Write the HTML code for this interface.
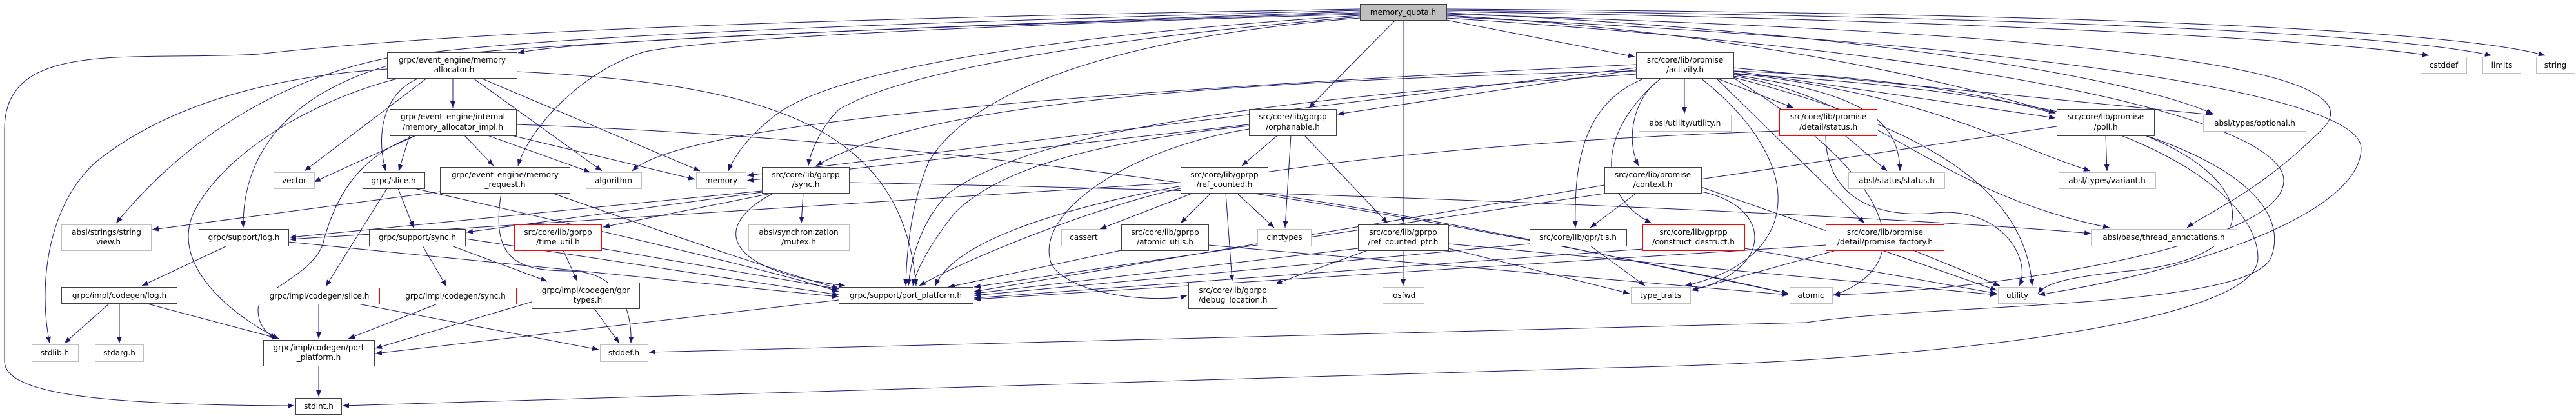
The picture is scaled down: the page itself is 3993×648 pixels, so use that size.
<!DOCTYPE html>
<html><head><meta charset="utf-8"><style>
html,body{margin:0;padding:0;background:#fff;}
svg{display:block;}
text{font-family:"DejaVu Sans","Liberation Sans",sans-serif;font-size:12px;fill:#000;}
.e{fill:none;stroke:#191970;stroke-width:1;marker-end:url(#a);}
.b{fill:#fff;stroke:#404040;stroke-width:1;}
.g{fill:#fff;stroke:#bfbfbf;stroke-width:1;}
.r{fill:#fff;stroke:#ff0000;stroke-width:1;}
.m{fill:#bfbfbf;stroke:#404040;stroke-width:1;}
</style></head><body>
<svg width="3993" height="648" viewBox="0 0 3993 648" xmlns="http://www.w3.org/2000/svg">
<defs><marker id="a" markerUnits="userSpaceOnUse" markerWidth="11" markerHeight="8" refX="10" refY="4" orient="auto"><path d="M0,0 L10,4 L0,8 z" fill="#191970"/></marker></defs>
<g>
<!-- memory_quota edges -->
<path class="e" d="M2108,20 C1500,40 900,60 803,82"/>
<path class="e" d="M2108,14 C1200,30 700,50 400,84 C200,95 7,60 7,200 L7,560 C7,610 150,628 456,629"/>
<path class="e" d="M2108,16 C1200,40 800,60 600,90 C450,120 300,200 180,346"/>
<path class="e" d="M2108,18 C1300,45 800,70 650,90 C500,120 375,200 377,353"/>
<path class="e" d="M2108,22 C1500,40 1100,60 1000,80 C900,110 820,200 803,257"/>
<path class="e" d="M2108,24 C1700,50 1300,100 1200,180 C1150,220 1135,250 1129,265"/>
<path class="e" d="M2108,26 C1700,60 1400,110 1300,170 C1270,200 1255,240 1253,257"/>
<path class="e" d="M2163,31 L2029,167"/>
<path class="e" d="M2175,31 L2175,346"/>
<path class="e" d="M2242,31 L2534,88"/>
<path class="e" d="M2108,28 C1700,60 1500,150 1440,250 C1410,320 1405,400 1404,443"/>
<path class="e" d="M2242,24 C2700,50 3000,120 3186,175"/>
<path class="e" d="M2242,20 C2900,50 3300,120 3430,176"/>
<path class="e" d="M2242,22 C3200,50 3700,100 3600,200 C3500,300 3420,330 3390,353"/>
<path class="e" d="M2242,18 C3000,30 3600,60 3765,86"/>
<path class="e" d="M2242,16 C3100,25 3700,50 3862,86"/>
<path class="e" d="M2242,14 C3200,20 3800,45 3945,86"/>
<path class="e" d="M2242,26 C3200,70 3660,150 3660,230 C3660,330 3400,420 3160,457"/>
<path class="e" d="M2242,28 C3200,90 3540,200 3540,280 C3540,380 3100,450 2842,457"/>
<path class="e" d="M2687,110 C3300,130 3500,300 3500,400 C3500,500 3000,560 2500,570 L531,629"/>
<path class="e" d="M2687,115 C3400,150 3560,300 3520,400 C3480,480 3000,470 2800,500 L1006,546"/>
<!-- memory_allocator -->
<path class="e" d="M600,107 C400,120 250,170 150,250 C70,320 60,450 77,532"/>
<path class="e" d="M620,121 C500,150 350,230 300,330 C260,420 380,500 432,525"/>
<path class="e" d="M662,121 L472,265"/>
<path class="e" d="M650,121 C600,140 580,200 598,265"/>
<path class="e" d="M702,121 L702,167"/>
<path class="e" d="M733,121 L933,265"/>
<path class="e" d="M745,121 L1085,265"/>
<path class="e" d="M801,111 C1200,130 1400,200 1420,443"/>
<!-- memory_allocator_impl -->
<path class="e" d="M645,210 L487,282"/>
<path class="e" d="M635,210 L618,265"/>
<path class="e" d="M645,210 C560,240 520,300 500,380 C480,430 400,450 400,480 C400,510 420,520 428,525"/>
<path class="e" d="M720,210 L765,257"/>
<path class="e" d="M756,210 L915,267"/>
<path class="e" d="M793,210 L1077,278"/>
<path class="e" d="M800,193 C1600,220 2300,350 2772,455"/>
<!-- slice / request / log / sync -->
<path class="e" d="M600,292 L505,444"/>
<path class="e" d="M617,292 L641,353"/>
<path class="e" d="M642,292 C900,350 1200,420 1300,452"/>
<path class="e" d="M855,299 C1000,350 1200,420 1300,447"/>
<path class="e" d="M777,299 C760,400 800,420 880,420 C960,420 980,480 978,532"/>
<path class="e" d="M682,297 L236,356"/>
<path class="e" d="M352,381 L220,443"/>
<path class="e" d="M447,375 L1300,460"/>
<path class="e" d="M655,381 L692,444"/>
<path class="e" d="M700,381 L848,436"/>
<path class="e" d="M721,370 L1300,457"/>
<path class="e" d="M170,470 L100,532"/>
<path class="e" d="M185,470 L185,532"/>
<path class="e" d="M225,470 L432,525"/>
<path class="e" d="M494,471 L494,525"/>
<path class="e" d="M555,471 L928,542"/>
<path class="e" d="M678,471 L540,525"/>
<path class="e" d="M494,567 L494,615"/>
<!-- gprpp sync -->
<path class="e" d="M1181,296 L449,368"/>
<path class="e" d="M1181,298 L723,360"/>
<path class="e" d="M1200,299 L935,352"/>
<path class="e" d="M1245,299 L1242,346"/>
<path class="e" d="M1200,299 C1100,350 1120,420 1310,443"/>
<path class="e" d="M1316,283 C2200,300 3000,340 3241,362"/>
<path class="e" d="M873,388 L895,436"/>
<path class="e" d="M932,385 L1300,448"/>
<path class="e" d="M824,468 L582,540"/>
<path class="e" d="M921,478 L960,532"/>
<path class="e" d="M1300,465 L582,548"/>
<!-- orphanable / ref_counted -->
<path class="e" d="M1980,210 L1925,257"/>
<path class="e" d="M2001,210 L1992,353"/>
<path class="e" d="M1936,200 C1750,230 1600,330 1630,410 C1660,460 1800,470 1840,458"/>
<path class="e" d="M1936,195 C1700,220 1550,260 1480,330 C1440,380 1420,420 1415,443"/>
<path class="e" d="M1936,193 L1158,280"/>
<path class="e" d="M2023,211 L2151,346"/>
<path class="e" d="M1850,299 L1705,355"/>
<path class="e" d="M1877,299 L1830,346"/>
<path class="e" d="M1917,299 L1975,353"/>
<path class="e" d="M1900,299 L1910,436"/>
<path class="e" d="M1830,292 C1700,320 1500,400 1425,443"/>
<path class="e" d="M1965,300 C2300,350 2600,420 2772,455"/>
<path class="e" d="M1830,283 L449,371"/>
<path class="e" d="M1738,388 L1470,445"/>
<path class="e" d="M1873,380 L2772,457"/>
<path class="e" d="M2175,388 L2175,443"/>
<path class="e" d="M2120,388 L1977,440"/>
<path class="e" d="M2105,385 L1510,455"/>
<path class="e" d="M2245,385 L2526,455"/>
<path class="e" d="M2245,378 L3095,457"/>
<!-- activity -->
<path class="e" d="M2611,121 L2611,176"/>
<path class="e" d="M2660,121 L2780,167"/>
<path class="e" d="M2576,121 C2530,150 2520,220 2540,257"/>
<path class="e" d="M2550,121 C2450,160 2440,260 2442,353"/>
<path class="e" d="M2575,121 C2480,200 2470,300 2560,346"/>
<path class="e" d="M2636,121 C2800,250 2800,400 2612,443"/>
<path class="e" d="M2687,110 L3186,183"/>
<path class="e" d="M2687,116 C2850,140 2945,170 2945,265"/>
<path class="e" d="M2687,113 C3000,150 3100,220 3240,265"/>
<path class="e" d="M2687,105 L3430,178"/>
<path class="e" d="M2687,118 C2900,150 3000,300 3270,353"/>
<path class="e" d="M2687,120 C3000,200 3140,300 3150,443"/>
<path class="e" d="M2687,121 C2900,250 3000,400 2842,458"/>
<path class="e" d="M2660,121 L2890,346"/>
<path class="e" d="M2536,110 C1700,130 1400,180 1265,257"/>
<path class="e" d="M2536,108 L2073,177"/>
<path class="e" d="M2536,105 L1158,272"/>
<path class="e" d="M2536,100 C1500,150 1050,200 980,265"/>
<path class="e" d="M2536,115 C2000,150 1600,200 1470,300 C1420,350 1410,420 1408,443"/>
<!-- promise leaves -->
<path class="e" d="M2860,210 L2925,265"/>
<path class="e" d="M2758,203 C2000,230 1500,320 1450,443"/>
<path class="e" d="M2830,210 C2830,300 2900,340 3000,330 C3100,320 3150,400 3130,443"/>
<path class="e" d="M2537,299 L2465,353"/>
<path class="e" d="M2487,287 L1510,452"/>
<path class="e" d="M2637,297 C2750,320 2750,420 2622,450"/>
<path class="e" d="M2637,290 L3095,450"/>
<path class="e" d="M2371,378 L1510,458"/>
<path class="e" d="M2465,381 L2550,443"/>
<path class="e" d="M2546,386 L1510,462"/>
<path class="e" d="M2704,385 L3095,455"/>
<path class="e" d="M3264,210 L3266,265"/>
<path class="e" d="M3188,196 L1510,445"/>
<path class="e" d="M3325,210 C3500,280 3520,400 3300,420 C3200,430 3170,440 3159,455"/>
<path class="e" d="M2846,388 L2622,450"/>
<path class="e" d="M2966,388 L3100,443"/>
<path class="e" d="M2830,380 L1510,464"/>
</g>
<g>
<rect class="m" x="2108.5" y="6.5" width="134" height="25"/><text x="2175" y="23" text-anchor="middle">memory_quota.h</text>
<rect class="b" x="600.5" y="81.5" width="201" height="40"/><text x="701" y="97" text-anchor="middle">grpc/event_engine/memory</text><text x="701" y="112" text-anchor="middle">_allocator.h</text>
<rect class="b" x="604.5" y="169.5" width="196" height="41"/><text x="702" y="185" text-anchor="middle">grpc/event_engine/internal</text><text x="702" y="201" text-anchor="middle">/memory_allocator_impl.h</text>
<rect class="g" x="424.5" y="267.5" width="63" height="25"/><text x="456" y="284" text-anchor="middle">vector</text>
<rect class="b" x="562.5" y="267.5" width="96" height="25"/><text x="610" y="284" text-anchor="middle">grpc/slice.h</text>
<rect class="b" x="682.5" y="259.5" width="201" height="40"/><text x="783" y="275" text-anchor="middle">grpc/event_engine/memory</text><text x="783" y="290" text-anchor="middle">_request.h</text>
<rect class="g" x="95.5" y="348.5" width="139" height="40"/><text x="165" y="364" text-anchor="middle">absl/strings/string</text><text x="165" y="379" text-anchor="middle">_view.h</text>
<rect class="b" x="308.5" y="355.5" width="139" height="26"/><text x="378" y="372" text-anchor="middle">grpc/support/log.h</text>
<rect class="b" x="572.5" y="355.5" width="149" height="26"/><text x="647" y="372" text-anchor="middle">grpc/support/sync.h</text>
<rect class="b" x="95.5" y="445.5" width="179" height="25"/><text x="185" y="462" text-anchor="middle">grpc/impl/codegen/log.h</text>
<rect class="r" x="401.5" y="446.5" width="187" height="25"/><text x="495" y="463" text-anchor="middle">grpc/impl/codegen/slice.h</text>
<rect class="r" x="612.5" y="446.5" width="188" height="25"/><text x="706" y="463" text-anchor="middle">grpc/impl/codegen/sync.h</text>
<rect class="g" x="49.5" y="534.5" width="72" height="26"/><text x="85" y="551" text-anchor="middle">stdlib.h</text>
<rect class="g" x="147.5" y="534.5" width="75" height="26"/><text x="185" y="551" text-anchor="middle">stdarg.h</text>
<rect class="b" x="408.5" y="527.5" width="172" height="40"/><text x="494" y="543" text-anchor="middle">grpc/impl/codegen/port</text><text x="494" y="558" text-anchor="middle">_platform.h</text>
<rect class="b" x="458.5" y="617.5" width="71" height="25"/><text x="494" y="634" text-anchor="middle">stdint.h</text>
<rect class="g" x="908.5" y="267.5" width="86" height="25"/><text x="951" y="284" text-anchor="middle">algorithm</text>
<rect class="g" x="1079.5" y="267.5" width="77" height="25"/><text x="1118" y="284" text-anchor="middle">memory</text>
<rect class="b" x="1181.5" y="259.5" width="135" height="40"/><text x="1249" y="275" text-anchor="middle">src/core/lib/gprpp</text><text x="1249" y="290" text-anchor="middle">/sync.h</text>
<rect class="r" x="797.5" y="348.5" width="135" height="40"/><text x="865" y="364" text-anchor="middle">src/core/lib/gprpp</text><text x="865" y="379" text-anchor="middle">/time_util.h</text>
<rect class="g" x="1160.5" y="348.5" width="156" height="40"/><text x="1238" y="364" text-anchor="middle">absl/synchronization</text><text x="1238" y="379" text-anchor="middle">/mutex.h</text>
<rect class="b" x="824.5" y="438.5" width="167" height="40"/><text x="908" y="454" text-anchor="middle">grpc/impl/codegen/gpr</text><text x="908" y="469" text-anchor="middle">_types.h</text>
<rect class="g" x="930.5" y="534.5" width="74" height="26"/><text x="967" y="551" text-anchor="middle">stddef.h</text>
<rect class="b" x="1300.5" y="445.5" width="208" height="25"/><text x="1404" y="462" text-anchor="middle">grpc/support/port_platform.h</text>
<rect class="b" x="1936.5" y="169.5" width="135" height="41"/><text x="2004" y="185" text-anchor="middle">src/core/lib/gprpp</text><text x="2004" y="201" text-anchor="middle">/orphanable.h</text>
<rect class="b" x="1830.5" y="259.5" width="135" height="40"/><text x="1898" y="275" text-anchor="middle">src/core/lib/gprpp</text><text x="1898" y="290" text-anchor="middle">/ref_counted.h</text>
<rect class="g" x="1645.5" y="355.5" width="69" height="26"/><text x="1680" y="372" text-anchor="middle">cassert</text>
<rect class="b" x="1738.5" y="348.5" width="135" height="40"/><text x="1806" y="364" text-anchor="middle">src/core/lib/gprpp</text><text x="1806" y="379" text-anchor="middle">/atomic_utils.h</text>
<rect class="g" x="1949.5" y="355.5" width="83" height="26"/><text x="1991" y="372" text-anchor="middle">cinttypes</text>
<rect class="b" x="1842.5" y="438.5" width="137" height="40"/><text x="1911" y="454" text-anchor="middle">src/core/lib/gprpp</text><text x="1911" y="469" text-anchor="middle">/debug_location.h</text>
<rect class="b" x="2536.5" y="81.5" width="151" height="40"/><text x="2612" y="97" text-anchor="middle">src/core/lib/promise</text><text x="2612" y="112" text-anchor="middle">/activity.h</text>
<rect class="g" x="2540.5" y="178.5" width="143" height="25"/><text x="2612" y="195" text-anchor="middle">absl/utility/utility.h</text>
<rect class="r" x="2758.5" y="169.5" width="151" height="41"/><text x="2834" y="185" text-anchor="middle">src/core/lib/promise</text><text x="2834" y="201" text-anchor="middle">/detail/status.h</text>
<rect class="b" x="2487.5" y="259.5" width="150" height="40"/><text x="2562" y="275" text-anchor="middle">src/core/lib/promise</text><text x="2562" y="290" text-anchor="middle">/context.h</text>
<rect class="b" x="2105.5" y="348.5" width="140" height="40"/><text x="2175" y="364" text-anchor="middle">src/core/lib/gprpp</text><text x="2175" y="379" text-anchor="middle">/ref_counted_ptr.h</text>
<rect class="b" x="2371.5" y="355.5" width="150" height="26"/><text x="2446" y="372" text-anchor="middle">src/core/lib/gpr/tls.h</text>
<rect class="r" x="2546.5" y="348.5" width="158" height="40"/><text x="2625" y="364" text-anchor="middle">src/core/lib/gprpp</text><text x="2625" y="379" text-anchor="middle">/construct_destruct.h</text>
<rect class="g" x="2143.5" y="445.5" width="64" height="25"/><text x="2175" y="462" text-anchor="middle">iosfwd</text>
<rect class="g" x="2528.5" y="445.5" width="92" height="25"/><text x="2574" y="462" text-anchor="middle">type_traits</text>
<rect class="g" x="2774.5" y="445.5" width="66" height="25"/><text x="2807" y="462" text-anchor="middle">atomic</text>
<rect class="g" x="2865.5" y="267.5" width="149" height="25"/><text x="2940" y="284" text-anchor="middle">absl/status/status.h</text>
<rect class="b" x="3188.5" y="169.5" width="151" height="41"/><text x="3264" y="185" text-anchor="middle">src/core/lib/promise</text><text x="3264" y="201" text-anchor="middle">/poll.h</text>
<rect class="g" x="3191.5" y="267.5" width="150" height="25"/><text x="3266" y="284" text-anchor="middle">absl/types/variant.h</text>
<rect class="g" x="3415.5" y="178.5" width="159" height="25"/><text x="3495" y="195" text-anchor="middle">absl/types/optional.h</text>
<rect class="r" x="2830.5" y="348.5" width="183" height="40"/><text x="2922" y="364" text-anchor="middle">src/core/lib/promise</text><text x="2922" y="379" text-anchor="middle">/detail/promise_factory.h</text>
<rect class="g" x="3241.5" y="355.5" width="226" height="26"/><text x="3354" y="372" text-anchor="middle">absl/base/thread_annotations.h</text>
<rect class="g" x="3097.5" y="445.5" width="60" height="25"/><text x="3127" y="462" text-anchor="middle">utility</text>
<rect class="g" x="3752.5" y="88.5" width="71" height="25"/><text x="3788" y="105" text-anchor="middle">cstddef</text>
<rect class="g" x="3848.5" y="88.5" width="59" height="25"/><text x="3878" y="105" text-anchor="middle">limits</text>
<rect class="g" x="3931.5" y="88.5" width="60" height="25"/><text x="3961" y="105" text-anchor="middle">string</text>
</g>
</svg>
</body></html>
